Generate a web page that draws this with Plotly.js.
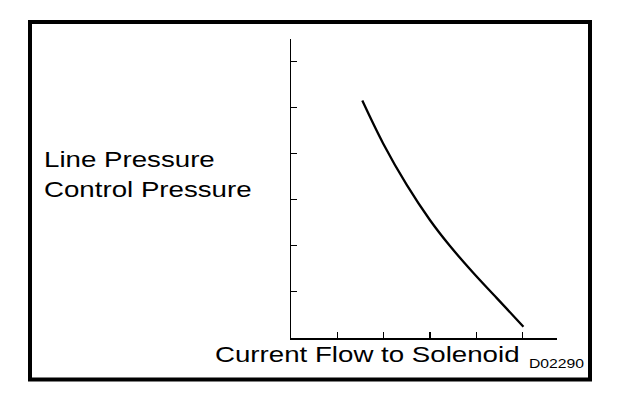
<!DOCTYPE html>
<html>
<head>
<meta charset="utf-8">
<script src="https://cdn.plot.ly/plotly-3.0.1.min.js"></script>
<style>
  html, body { margin: 0; padding: 0; background: #fff; }
  #chart { width: 624px; height: 394px; }
  .annotation-text { transform-box: fill-box; transform-origin: 0 50%; transform: scaleX(1.23); }
  .annotation[data-index="3"] .annotation-text { transform: scaleX(1.26); }
</style>
</head>
<body>
<div id="chart"></div>
<script>
// Data (arbitrary units)
const currentFlow = [1.54, 1.99, 2.50, 3.00, 3.43, 3.94, 4.44, 5.02];
const pressure    = [5.15, 4.22, 3.32, 2.56, 2.00, 1.41, 0.87, 0.245];
const xTickVals = [1, 2, 3, 4, 5];
const yTickVals = [1, 2, 3, 4, 5, 6];
const yLabelLines = ["Line Pressure", "Control Pressure"];
const xLabel = "Current Flow to Solenoid";
const figCode = "D02290";

// Plot area in pixels
const W = 624, H = 394;
const L = 291, R = 557, T = 39, B = 338;
const px = x => (x - L) / (R - L);
const py = y => (B - y) / (B - T);

const trace = {
  x: currentFlow,
  y: pressure,
  type: 'scatter',
  mode: 'lines',
  line: { color: '#000', width: 2.3, shape: 'spline', smoothing: 1 },
  hoverinfo: 'skip',
  showlegend: false
};

const font = { family: '"Liberation Sans", Arial, sans-serif', color: '#000' };

const layout = {
  width: W, height: H,
  margin: { l: L, r: W - R, t: T, b: H - B, pad: 0 },
  paper_bgcolor: '#fff',
  plot_bgcolor: '#fff',
  showlegend: false,
  xaxis: {
    range: [0, (R - L) / 46.3],
    showgrid: false, zeroline: false,
    showline: true, linecolor: '#000', linewidth: 1.5,
    ticks: 'inside', ticklen: 6, tickwidth: 1.2, tickcolor: '#000',
    tickmode: 'array', tickvals: xTickVals, showticklabels: false,
    fixedrange: true
  },
  yaxis: {
    range: [0, (B - T) / 46.1],
    showgrid: false, zeroline: false,
    showline: true, linecolor: '#000', linewidth: 1.5,
    ticks: 'inside', ticklen: 6, tickwidth: 1.2, tickcolor: '#000',
    tickmode: 'array', tickvals: yTickVals, showticklabels: false,
    fixedrange: true
  },
  shapes: [{
    type: 'rect', xref: 'paper', yref: 'paper',
    x0: px(30), x1: px(590), y0: py(379.5), y1: py(22),
    line: { color: '#000', width: 4 }, fillcolor: 'rgba(0,0,0,0)'
  }],
  annotations: [
    { text: yLabelLines[0], xref: 'paper', yref: 'paper', x: px(41.5), y: py(158.1),
      xanchor: 'left', yanchor: 'middle', showarrow: false, font: Object.assign({ size: 22.5 }, font) },
    { text: yLabelLines[1], xref: 'paper', yref: 'paper', x: px(41.5), y: py(188.4),
      xanchor: 'left', yanchor: 'middle', showarrow: false, font: Object.assign({ size: 22.5 }, font) },
    { text: xLabel, xref: 'paper', yref: 'paper', x: px(213), y: py(353.1),
      xanchor: 'left', yanchor: 'middle', showarrow: false, font: Object.assign({ size: 22.5 }, font) },
    { text: figCode, xref: 'paper', yref: 'paper', x: px(527), y: py(362.8),
      xanchor: 'left', yanchor: 'middle', showarrow: false, font: Object.assign({ size: 12.5 }, font) }
  ]
};

Plotly.newPlot('chart', [trace], layout, { displayModeBar: false, staticPlot: true });
</script>
</body>
</html>
